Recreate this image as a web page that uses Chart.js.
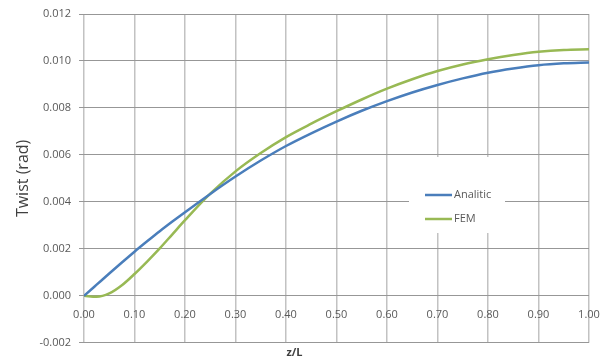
<!DOCTYPE html>
<html>
<head>
<meta charset="utf-8">
<script src="https://cdn.jsdelivr.net/npm/chart.js@4/dist/chart.umd.min.js"></script>
<style>
  html, body { margin: 0; padding: 0; background: #fff; }
  #wrap { width: 605px; height: 362px; }
</style>
</head>
<body>
<div id="wrap"><canvas id="twistChart"></canvas></div>
<script>
// z/L positions the curves were read at
const zPos = [0, 0.025, 0.05, 0.075, 0.10, 0.125, 0.15, 0.175, 0.20, 0.25, 0.30, 0.35, 0.40,
              0.45, 0.50, 0.55, 0.60, 0.65, 0.70, 0.75, 0.80, 0.85, 0.90, 0.95, 1.00];

// twist (rad)
const analitic = [0, 0.000475, 0.00095, 0.00142, 0.00188, 0.00232, 0.00275, 0.00316, 0.00356,
                  0.00434, 0.00508, 0.00576, 0.00638, 0.00692, 0.00742, 0.00788, 0.00829,
                  0.00866, 0.00898, 0.00926, 0.0095, 0.00968, 0.00982, 0.0099, 0.00994];
const fem = [0, -0.00004, 0.0001, 0.00045, 0.00093, 0.00146, 0.00202, 0.00262, 0.00322,
             0.00435, 0.0053, 0.00608, 0.00676, 0.00733, 0.00786, 0.00836, 0.00882,
             0.00922, 0.00957, 0.00985, 0.01007, 0.01025, 0.01039, 0.01047, 0.0105];

const yTicks = [-0.002, 0, 0.002, 0.004, 0.006, 0.008, 0.010, 0.012];
const xTicks = [0, 0.1, 0.2, 0.3, 0.4, 0.5, 0.6, 0.7, 0.8, 0.9, 1.0];

const toPts = (vals) => vals.map((v, i) => ({ x: zPos[i], y: v }));

// legend sitting inside the plot, white box over the grid
const innerLegend = {
  id: 'innerLegend',
  beforeDatasetsDraw(chart) {
    const { ctx, chartArea } = chart;
    const bx = chartArea.left + 325, by = chartArea.top + 143;
    ctx.save();
    ctx.fillStyle = '#fff';
    ctx.fillRect(bx, by, 96, 76);
    ctx.font = '11px "Open Sans"';
    ctx.textBaseline = 'middle';
    chart.data.datasets.forEach((ds, i) => {
      const y = by + 38 + i * 24;
      ctx.strokeStyle = ds.borderColor;
      ctx.lineWidth = 2.5;
      ctx.beginPath();
      ctx.moveTo(bx + 16, y);
      ctx.lineTo(bx + 43, y);
      ctx.stroke();
      ctx.fillStyle = '#595959';
      ctx.fillText(ds.label, bx + 45, y);
    });
    ctx.restore();
  }
};

new Chart(document.getElementById('twistChart'), {
  type: 'scatter',
  data: {
    datasets: [
      { label: 'Analitic', data: toPts(analitic), showLine: true, borderColor: '#4a7ebb',
        borderWidth: 2.5, pointRadius: 0, cubicInterpolationMode: 'monotone' },
      { label: 'FEM', data: toPts(fem), showLine: true, borderColor: '#98b954',
        borderWidth: 2.5, pointRadius: 0, cubicInterpolationMode: 'monotone' }
    ]
  },
  options: {
    responsive: true,
    maintainAspectRatio: false,
    animation: false,
    events: [],
    layout: { padding: { left: 0, right: 16, top: 14, bottom: 0 } },
    plugins: {
      legend: { display: false },
      tooltip: { enabled: false },
      title: {
        display: true, position: 'bottom', text: 'z/L', color: '#404040',
        font: { family: '"Open Sans"', size: 11, weight: 'bold' },
        padding: { top: 3, bottom: 3 }
      }
    },
    scales: {
      x: {
        type: 'linear', min: 0, max: 1,
        position: { y: 0 },
        afterFit: (s) => { s.height = 0; s.paddingLeft = 0; s.paddingRight = 0; },
        afterBuildTicks: (s) => { s.ticks = xTicks.map(v => ({ value: v })); },
        grid: { color: '#c2c2c2', lineWidth: 1.5, drawTicks: false },
        border: { display: false },
        ticks: { padding: 12, color: '#595959', font: { family: '"Open Sans"', size: 11 },
                 callback: (v) => v.toFixed(2), maxRotation: 0 }
      },
      y: {
        min: -0.002, max: 0.012,
        afterFit: (s) => { s.width = 84; s.paddingTop = 0; s.paddingBottom = 0; },
        afterBuildTicks: (s) => { s.ticks = yTicks.map(v => ({ value: v })); },
        grid: { color: '#979797', lineWidth: 1, tickLength: 5 },
        border: { display: false },
        ticks: { padding: 8, color: '#595959', font: { family: '"Open Sans"', size: 11 },
                 callback: (v) => v.toFixed(3) },
        title: { display: true, text: 'Twist (rad)', color: '#404040',
                 font: { family: '"Open Sans"', size: 16 }, padding: { top: 14, bottom: 0 } }
      }
    }
  },
  plugins: [innerLegend]
});
</script>
</body>
</html>
